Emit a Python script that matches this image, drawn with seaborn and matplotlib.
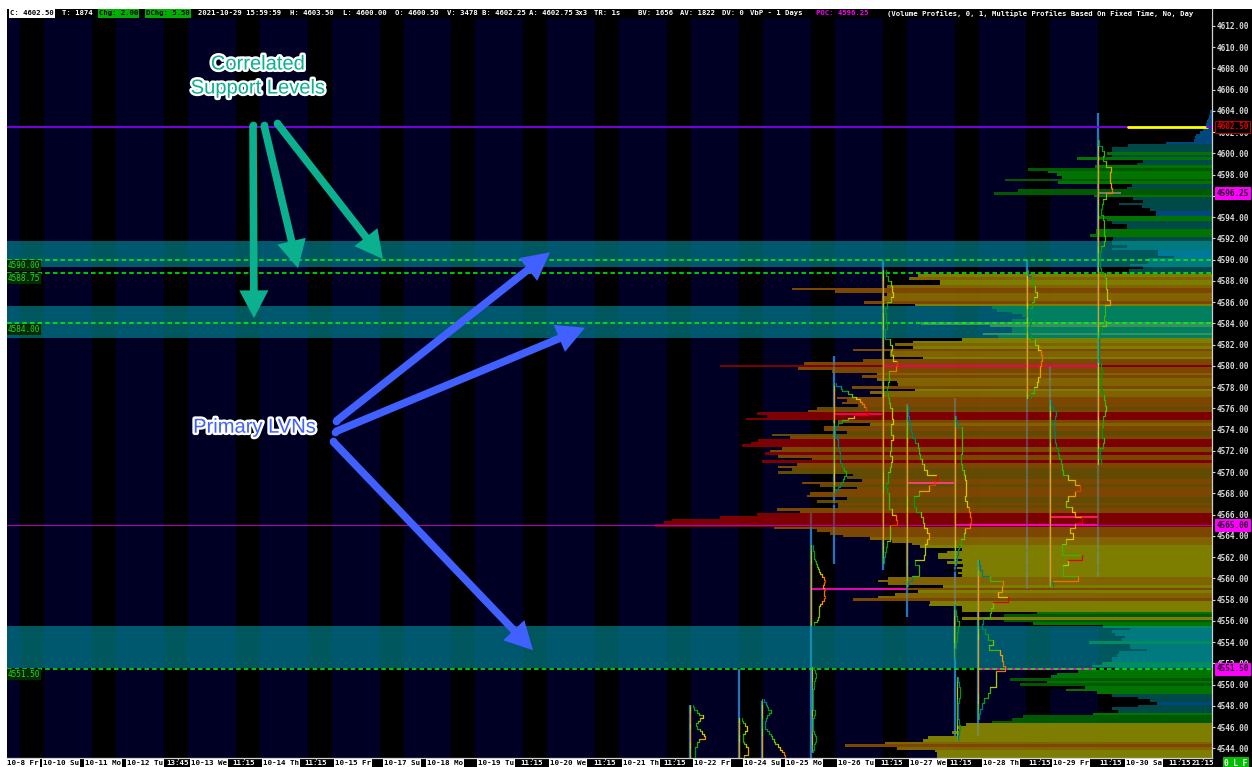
import numpy as np
import pandas as pd
import matplotlib
matplotlib.use("Agg")
import matplotlib.pyplot as plt
import matplotlib.patheffects as pe
from matplotlib.patches import Rectangle
import seaborn as sns

# composite volume profile, one list per 10 points, top of list = first price
vol_4604 = [2, 2, 3, 4, 5, 6, 6, 9, 12, 16, 17, 18, 46, 84, 100, 100]
vol_4600 = [105, 100, 135, 69, 75, 117, 184, 164, 155, 150, 207, 154, 80, 85, 194, 218,
            118, 79, 69, 93, 70, 62, 56, 56, 113, 105, 100, 85, 85, 116, 116, 122,
            99, 100, 100, 85, 100, 54, 54, 38]
vol_4590 = [64, 64, 82, 69, 83, 90, 294, 303, 272, 272, 325, 420, 377, 325, 330, 330,
            348, 297, 220, 215, 200, 190, 185, 200, 291, 222, 200, 200, 229, 214, 250, 299,
            317, 299, 359, 322, 322, 289, 349, 408]
vol_4580 = [492, 414, 380, 335, 350, 335, 315, 314, 360, 297, 342, 330, 375, 365, 370, 354,
            395, 404, 455, 445, 466, 374, 342, 388, 388, 365, 440, 422, 454, 461, 470, 430,
            442, 447, 434, 400, 450, 415, 434, 420]
vol_4570 = [434, 359, 365, 350, 410, 392, 355, 379, 402, 405, 365, 395, 374, 374, 435, 412,
            455, 492, 540, 548, 557, 438, 395, 382, 369, 342, 320, 300, 292, 250, 265, 274,
            274, 250, 265, 249, 255, 250, 254, 250]
vol_4560 = [324, 334, 324, 269, 347, 294, 317, 334, 359, 282, 283, 250, 250, 175, 208, 250,
            208, 179, 109, 82, 100, 97, 87, 90, 123, 82, 82, 65, 93, 95, 100, 100,
            110, 120, 97, 134, 155, 161, 202, 165]
vol_4550 = [192, 127, 146, 115, 100, 74, 62, 55, 74, 100, 94, 119, 189, 200, 220, 246,
            255, 253, 260, 255, 284, 289, 327, 367, 315, 277, 275, 275]

# rows that read darker than their volume bin
muted_prices = [4576, 4573.75, 4573.5, 4570.25, 4570, 4569.75, 4569.5, 4568.75, 4567.5, 4567.25, 4566.75]

# dark tips sticking out of the profile rows
tip_prices = [4600.5, 4599.25, 4599, 4597, 4595.5, 4595, 4594.75, 4593.5, 4593, 4589.25, 4588.75,
              4588, 4587.75, 4582.5, 4581.75, 4580.75, 4579.25, 4578.5, 4578.25, 4577.75, 4574.5,
              4569.75, 4568.5, 4567, 4562.75, 4561.25, 4560.75, 4559.25, 4558.75, 4556.75,
              4555.5, 4551.75, 4550.25, 4549.75, 4549, 4548.75, 4548.5, 4548.25, 4548, 4547.75]
tip_vols = [112, 109, 109, 112, 105, 109, 107, 107, 102, 112, 146,
            325, 325, 327, 322, 319, 345, 325, 329, 329, 380,
            377, 370, 380, 279, 259, 269, 302, 302, 234,
            179, 234, 192, 164, 114, 114, 114, 114, 103, 103]

# session mini profiles: base position, vertical extent
session_base = [690, 739, 762, 811, 834, 883, 907, 955, 978, 1027, 1050, 1098]
session_top = [4548.1, 4551.5, 4548.5, 4566.2, 4580.9, 4590, 4576.4, 4577, 4561.7, 4590, 4580, 4603.8]
session_bottom = [4543.1, 4543.1, 4543.1, 4543.1, 4561.4, 4560.8, 4556.4, 4545.2, 4545.2, 4559, 4559.3, 4560.1]

# (base, first price, price step, peak, widths)
tr_s1 = [3, 4, 7, 9, 13, 10, 8, 6, 7, 10, 12, 14, 15, 9, 7, 7, 5, 5, 5, 5]
tr_s2 = [3, 4, 6, 8, 8, 6, 4, 4, 4, 5, 7, 9, 9, 9, 5]
tr_s3 = [2, 4, 5, 6, 9, 7, 5, 4, 3, 3, 3, 5, 7, 9, 10, 12, 13, 16, 18, 20, 22, 23]
tr_s4 = [2, 2, 3, 3, 3, 4, 5, 6, 7, 8, 9, 11, 13, 14, 13, 12, 14, 13, 13, 14, 13, 11, 9, 8, 8, 8, 8, 7, 6, 3]
tr_s4b = [2, 3, 4, 4, 3, 2, 2, 2, 1, 1, 1, 1, 1, 1, 1, 1, 3, 3, 2, 1, 1, 1, 1, 1, 2, 3, 4, 4, 3, 2, 2, 1]
tr_s5 = [2, 7, 8, 14, 18, 22, 26, 28, 30, 32, 34, 34, 20, 14, 8, 4, 2, 1, 1, 1, 3, 4, 4, 4, 5, 5, 6, 6, 6, 6,
         8, 9, 10, 12, 12, 10, 9, 7, 6, 4, 2]
tr_s6 = [3, 5, 8, 9, 10, 8, 4, 2, 3, 3, 4, 2, 2, 7, 9, 8, 10, 14, 13, 6, 6, 5, 4, 5, 6, 7, 9, 9, 10, 8,
         8, 10, 8, 8, 7, 9, 8, 7, 5, 5, 3, 4, 6, 6, 6, 9, 13, 14, 7, 7, 7, 4, 3, 2, 1]
tr_s7 = [1, 1, 2, 3, 4, 5, 8, 11, 12, 13, 15, 17, 20, 30, 28, 22, 12, 7, 7, 9, 14, 16, 17, 20, 22, 20,
         18, 18, 17, 8, 12, 12, 5, 1]
tr_s8 = [1, 2, 7, 7, 7, 7, 7, 6, 6, 7, 9, 10, 11, 11, 11, 10, 12, 14, 15, 16, 15, 10, 9, 6, 4, 3, 2, 1]
tr_s8b = [1, 2, 3, 5, 4, 3, 3, 2, 1, 1]
tr_s8c = [1, 2, 3, 3, 2, 1, 1, 1, 2, 3, 2, 1]
tr_s9 = [1, 2, 4, 12, 25, 24, 20, 30, 15, 13, 12, 5, 4, 7, 10, 15, 11, 22, 24, 25, 27, 18, 18, 18, 12, 10, 6, 4, 2, 1]
tr_s10 = [1, 5, 6, 8, 10, 7, 5, 3, 3, 4, 3, 2, 4, 8, 11, 14, 15, 14, 13, 13, 11, 10, 7, 4]
tr_s11 = [1, 3, 6, 5, 3, 4, 5, 5, 6, 8, 9, 11, 12, 13, 18, 25, 30, 25, 18, 16, 22, 25, 32, 25, 20,
          23, 16, 12, 12, 32, 18, 13, 13, 28, 3]
tr_s12 = [1, 4, 6, 5, 8, 13, 12, 12, 13, 14, 8, 5, 4, 3, 5, 6, 6, 6, 7, 6, 3, 2, 2, 2, 3, 7, 8, 8, 9, 9, 12,
          7, 7, 6, 8, 4, 2, 1, 1, 1, 1, 1, 3, 4, 3, 3, 3, 4, 6, 7, 8, 7, 5, 5, 4, 4, 6, 5, 2, 2, 3]

traces = [
    (690, 4548.0, 0.25, 20, tr_s1),
    (739, 4546.75, 0.25, 12, tr_s2),
    (762, 4548.5, 0.25, 26, tr_s3),
    (811, 4563.0, 0.25, 15, tr_s4),
    (812, 4551.5, 0.25, 15, tr_s4b),
    (834, 4578.25, 0.25, 34, tr_s5),
    (883, 4588.75, 0.5, 15, tr_s6),
    (907, 4576.0, 0.5, 30, tr_s7),
    (955, 4575.0, 0.5, 17, tr_s8),
    (954, 4557.25, 0.5, 15, tr_s8b),
    (957, 4550.5, 0.5, 15, tr_s8c),
    (978, 4561.5, 0.5, 30, tr_s9),
    (1027, 4588.75, 0.5, 17, tr_s10),
    (1050, 4576.5, 0.5, 32, tr_s11),
    (1098, 4601.0, 0.5, 16, tr_s12),
]

# session POC segments
poc_price = [4559, 4575.5, 4580, 4569, 4565, 4551.5, 4565.75, 4596.25]
poc_start = [811, 834, 883, 907, 955, 978, 1050, 1098]
poc_end = [906, 882, 1098, 954, 1098, 1093, 1098, 1121]
poc_color = ['#ff00c8', '#ff0060', '#ff0060', '#ff4080', '#ff00d0', '#ff00d0', '#ff2060', '#808080']

# background sessions
navy_left = [7, 44, 116, 188, 260, 332, 404, 475, 547, 619, 691, 763, 835, 907, 979, 1050]
navy_right = [20, 92, 164, 236, 308, 380, 451, 523, 595, 667, 739, 811, 883, 955, 1026, 1098]

band_low = [4589.3, 4582.6, 4551.6]
band_high = [4591.8, 4585.6, 4555.5]
dash_levels = [4590.0, 4588.75, 4584.0, 4551.5]
dash_labels = ['4590.00', '4588.75', '4584.00', '4551.50']

y_ticks = list(range(4544, 4614, 2))
x_ticks = [23, 61, 103, 145, 178, 209, 244, 281, 316, 353, 402, 445, 496, 532, 568, 605, 641, 675, 712,
           762, 804, 856, 892, 928, 961, 1001, 1040, 1071, 1111, 1144, 1180, 1203]
x_labels = ['10-8 Fr', '10-10 Su', '10-11 Mo', '10-12 Tu', '13:45', '10-13 We', '11:15', '10-14 Th', '11:15', '10-15 Fr',
            '10-17 Su', '10-18 Mo', '10-19 Tu', '11:15', '10-20 We', '11:15', '10-21 Th', '11:15', '10-22 Fr',
            '10-24 Su', '10-25 Mo', '10-26 Tu', '11:15', '10-27 We', '11:15', '10-28 Th', '11:15', '10-29 Fr',
            '11:15', '10-30 Sa', '11:15', '21:15']

header_text = ['C: 4602.50', 'T: 1874', 'Chg: 2.00', 'DChg: 5.50', '2021-10-29 15:59:59', 'H: 4603.50', 'L: 4600.00',
               'O: 4600.50', 'V: 3478', 'B: 4602.25', 'A: 4602.75', '3x3', 'TR: 1s', 'BV: 1656', 'AV: 1822', 'DV: 0',
               'VbP - 1 Days', 'POC: 4596.25',
               '(Volume Profiles, 0, 1, Multiple Profiles Based On Fixed Time, No, Day']
header_x = [10, 62, 99, 146, 198, 290, 343, 395, 447, 482, 529, 575, 594, 638, 680, 722, 750, 816, 887]

price_tags = [('4602.50', '#e00000', '#000000', '#c00000', 4602.5),
              ('4596.25', '#200020', '#ff00ff', '#ff00ff', 4596.25),
              ('4565.00', '#200020', '#ff00ff', '#ff00ff', 4565.0),
              ('4551.50', '#200020', '#ff00ff', '#ff00ff', 4551.5)]

vol_limits = [60, 102, 180, 222, 300, 345, 445]
vol_colors = ['#00508c', '#005252', '#008000', '#006400', '#8c8c00', '#8f6f00', '#8a4e00', '#8c0000']

volumes = np.array(vol_4604 + vol_4600 + vol_4590 + vol_4580 + vol_4570 + vol_4560 + vol_4550)
prices = 4604.0 - 0.25 * np.arange(len(volumes))

RIGHT = 1212
MONO = 'DejaVu Sans Mono'

sns.set_theme(style='dark', rc={'axes.facecolor': 'black', 'figure.facecolor': 'white', 'axes.grid': False})

fig = plt.figure(figsize=(12.52, 7.67), dpi=100)
fig.add_artist(Rectangle((7 / 1252, 0), 1245 / 1252, 758 / 767, transform=fig.transFigure, fc='black', lw=0, zorder=-5))
ax = fig.add_axes([7 / 1252, 9 / 767, 1205 / 1252, 749 / 767])
ax.set_xlim(7, RIGHT)
ax.set_ylim(4543.1, 4613.6)

for l, r in zip(navy_left, navy_right):
    ax.axvspan(l, r, color='#000024', lw=0, zorder=0)

# blue session columns under the profile
for b, t, s in zip(session_base, session_top, session_bottom):
    ax.plot([b, b], [s, t], color='#0064c8', lw=1.6, zorder=1, solid_capstyle='butt')

tips = np.array(tip_vols)
ax.barh(tip_prices, tips, left=RIGHT - tips, height=0.25, color='black', lw=0, zorder=1.5, antialiased=False)

colors = [vol_colors[i] for i in np.digitize(volumes, vol_limits)]
colors = ['#6e5400' if p in muted_prices else c for p, c in zip(prices, colors)]
ax.barh(prices, volumes, left=RIGHT - volumes, height=0.25, color=colors, lw=0, alpha=0.9, zorder=2, antialiased=False)

# pale part of the columns showing through the profile
for b, t, s in zip(session_base, session_top, session_bottom):
    ax.plot([b, b], [s, t], color='#7090b0', lw=1.6, alpha=0.35, zorder=3, solid_capstyle='butt')

for lo, hi in zip(band_low, band_high):
    ax.axhspan(lo, hi, color=(0, 0.63, 0.68), alpha=0.55, lw=0, zorder=4)

ax.plot([7, 1128], [4602.5, 4602.5], color='#7a00e0', lw=1.4, zorder=5)
ax.plot([1128, 1207], [4602.5, 4602.5], color='#ffff00', lw=2, zorder=5)
ax.plot([1207, RIGHT], [4602.5, 4602.5], color='#7a00e0', lw=1.4, zorder=5)
ax.axhline(4565, color='#b000b0', lw=0.8, zorder=5)

for p, a, b, c in zip(poc_price, poc_start, poc_end, poc_color):
    ax.plot([a, b], [p, p], color=c, lw=1.3, zorder=6, solid_capstyle='butt')

for lev, lab in zip(dash_levels, dash_labels):
    ax.plot([7, RIGHT], [lev, lev], color='#00ff00', lw=1.1, dashes=(3, 2), zorder=7)
    ax.text(8, lev - 0.55, lab, family=MONO, fontsize=5.6, color='#30d030', va='center', ha='left', zorder=7,
            bbox=dict(fc='#002c00', ec='none', pad=0.6))

# stepped session traces, coloured by width
rows = []
seg = 0
n_levels = 12
for base, first, step, peak, widths in traces:
    for i, w in enumerate(widths):
        level = min(int(w / peak * (n_levels - 1)), n_levels - 1)
        p = first - step * i
        next_w = widths[i + 1] if i + 1 < len(widths) else w
        rows += [(seg, base + w, p + step / 2, level), (seg, base + w, p - step / 2, level),
                 (seg, base + next_w, p - step / 2, level)]
        seg += 1
        # the base line runs hotter than the trace, but stops at orange
        base_level = min(level + 4, 8)
        rows += [(seg, base, p + step / 2, base_level), (seg, base, p - step / 2, base_level)]
        seg += 1
trace_df = pd.DataFrame(rows, columns=['seg', 'x', 'price', 'level'])
trace_pal = sns.blend_palette(['#0064c8', '#00a000', '#50b800', '#e0d000', '#f08000', '#e00000'], n_levels)
sns.lineplot(data=trace_df, x='x', y='price', hue='level', units='seg', estimator=None, sort=False,
             palette={i: trace_pal[i] for i in range(n_levels)}, legend=False, lw=0.9, zorder=8, ax=ax)

# header strip
ax.axhspan(4612.75, 4613.6, color='black', lw=0, zorder=9)
for txt, hx in zip(header_text, header_x):
    color, bg = 'white', None
    if txt.startswith('C:'):
        color, bg = 'black', 'white'
    elif 'Chg' in txt:
        color, bg = 'black', '#00b000'
    elif txt.startswith('POC'):
        color = '#ff00ff'
    t = ax.text(hx, 4613.18, txt, family=MONO, fontsize=5.2, weight='bold', color=color, va='center', ha='left',
                zorder=10, clip_on=True)
    if bg:
        t.set_bbox(dict(fc=bg, ec='none', pad=0.8))

# annotations
teal = '#0bb08f'
blue = '#4060ff'
arrows = [(253, 4602.68, 254, 4584.5, teal), (264, 4602.68, 298, 4589.2, teal), (277, 4602.87, 383, 4590.06, teal),
          (336, 4574.8, 550, 4590.7, blue), (335, 4573.8, 585, 4583.6, blue), (333, 4572.9, 533, 4553.24, blue)]
for x0, y0, x1, y1, c in arrows:
    ax.annotate('', xy=(x1, y1), xytext=(x0, y0), zorder=11,
                arrowprops=dict(arrowstyle='simple,head_length=20,head_width=21,tail_width=5.5', mutation_scale=1,
                                fc=c, ec='none', lw=0, shrinkA=0, shrinkB=0))
    ax.plot([x0], [y0], 'o', ms=5.5, color=c, mew=0, zorder=11)

outline = [pe.withStroke(linewidth=3.5, foreground='white')]
ax.text(258, 4608.42, 'Correlated', family='Liberation Sans', fontsize=14.5, color=teal, ha='center', va='center',
        zorder=12, path_effects=outline)
ax.text(258, 4606.16, 'Support Levels', family='Liberation Sans', fontsize=14.5, color=teal, ha='center', va='center',
        zorder=12, path_effects=outline)
ax.text(254.5, 4574.24, 'Primary LVNs', family='Liberation Sans', fontsize=14.5, color=blue, ha='center', va='center',
        zorder=12, path_effects=outline)

# axes
ax.set_xlabel('')
ax.set_ylabel('')
ax.yaxis.tick_right()
ax.set_yticks(y_ticks, [f'{v:.2f}' for v in y_ticks])
ax.set_xticks(x_ticks, x_labels)
ax.tick_params(axis='y', right=True, length=2, width=0.8, color='#d0d0d0', pad=1.5, labelsize=5.6, labelcolor='#d8d8d8')
ax.tick_params(axis='x', bottom=True, length=1.5, width=0.8, color='#c0c0c0', pad=0, labelsize=5.4)
for lab in ax.get_yticklabels():
    lab.set_family(MONO)
    lab.set_weight('bold')
for lab in ax.get_xticklabels():
    lab.set_family(MONO)
    lab.set_weight('bold')
    if ':' in lab.get_text():
        lab.set_color('white')
    else:
        lab.set_color('black')
        lab.set_bbox(dict(fc='white', ec='none', pad=0.7))
for side in ['top', 'left']:
    ax.spines[side].set_visible(False)
for side in ['bottom', 'right']:
    ax.spines[side].set_color('#d0d0d0')
    ax.spines[side].set_linewidth(0.9)

for txt, col, bg, edge, p in price_tags:
    ax.annotate(txt, xy=(1, p), xycoords=('axes fraction', 'data'), xytext=(3, 0), textcoords='offset points',
                family=MONO, fontsize=5.6, weight='bold', color=col, va='center', ha='left', annotation_clip=False,
                zorder=20, bbox=dict(fc=bg, ec=edge, lw=0.7, pad=1.1))

fig.text(1236 / 1252, 3.5 / 767, '0 L F', family=MONO, fontsize=5.6, weight='bold', color='white', ha='center',
         va='center', bbox=dict(fc='#00c000', ec='none', pad=1.2))

fig.savefig('out.png', dpi=100)
